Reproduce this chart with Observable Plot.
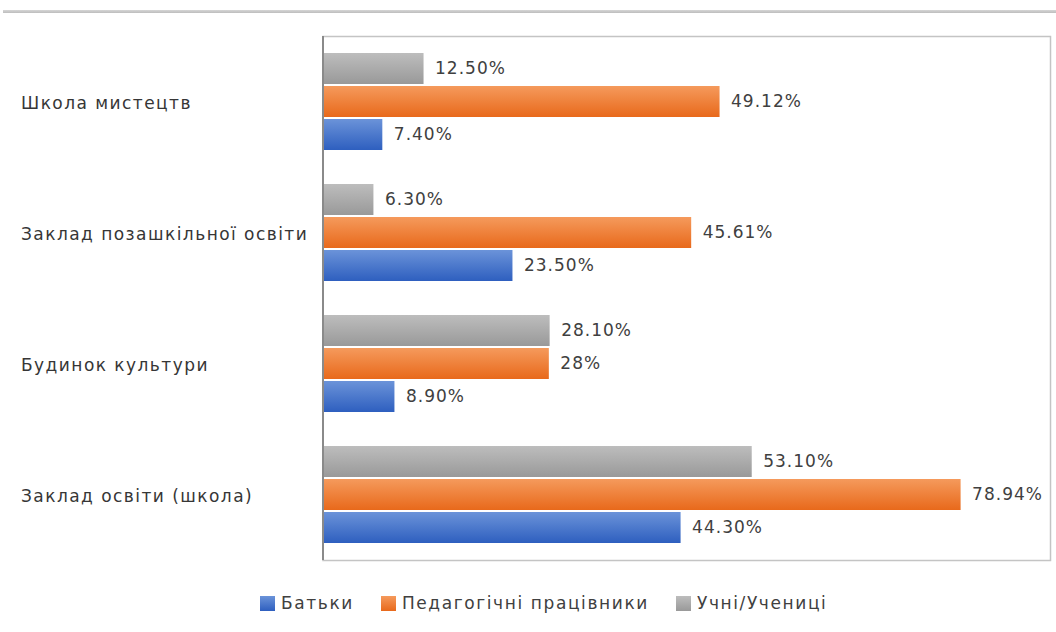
<!DOCTYPE html>
<html>
<head>
<meta charset="utf-8">
<script src="https://cdn.jsdelivr.net/npm/d3@7"></script>
<script src="https://cdn.jsdelivr.net/npm/@observablehq/plot@0.6"></script>
<style>
  html, body { margin: 0; padding: 0; background: #fff; }
  #wrap { position: relative; width: 1056px; height: 632px; font-family: "DejaVu Sans", sans-serif; }
  #topline { position: absolute; left: 3px; top: 10px; width: 1053px; height: 3px; background: linear-gradient(#d6d6d6, #bdbdbd); }
  #chart { position: absolute; left: 0; top: 0; }
  #legend { position: absolute; left: 260px; top: 593px; display: flex; align-items: center; font-size: 17px; letter-spacing: 1.6px; color: #404040; }
  .item { display: flex; align-items: center; margin-right: 27px; }
  .sw { width: 15px; height: 15px; margin-right: 6px; }
</style>
</head>
<body>
<div id="wrap">
  <div id="topline"></div>
  <div id="chart"></div>
  <div id="legend"></div>
</div>
<script>
const categories = ["Школа мистецтв", "Заклад позашкільної освіти", "Будинок культури", "Заклад освіти (школа)"];
const seriesNames = ["Батьки", "Педагогічні працівники", "Учні/Учениці"];
const parents = [7.40, 23.50, 8.90, 44.30];
const teachers = [49.12, 45.61, 28, 78.94];
const students = [12.50, 6.30, 28.10, 53.10];
const parentLabels = ["7.40%", "23.50%", "8.90%", "44.30%"];
const teacherLabels = ["49.12%", "45.61%", "28%", "78.94%"];
const studentLabels = ["12.50%", "6.30%", "28.10%", "53.10%"];

const seriesValues = [parents, teachers, students];
const seriesLabels = [parentLabels, teacherLabels, studentLabels];
const fills = ["url(#gBlue)", "url(#gOrange)", "url(#gGray)"];

const data = [];
seriesNames.forEach((s, si) => {
  categories.forEach((c, ci) => {
    data.push({category: c, series: s, value: seriesValues[si][ci], label: seriesLabels[si][ci]});
  });
});

const chart = Plot.plot({
  width: 1056,
  height: 580,
  marginTop: 35,
  marginBottom: 20,
  marginLeft: 322.5,
  marginRight: 6,
  style: {fontFamily: "'DejaVu Sans', sans-serif", fontSize: "17px", color: "#404040", background: "transparent", letterSpacing: "1px"},
  x: {domain: [0, 90], axis: null},
  fy: {domain: categories, padding: 0, axis: null},
  y: {domain: ["Учні/Учениці", "Педагогічні працівники", "Батьки"], paddingInner: 0.06, paddingOuter: 0.46, axis: null},
  marks: [
    ...seriesNames.map((s, si) => Plot.barX(data.filter(d => d.series === s), {
      x: "value", y: "series", fy: "category", fill: fills[si], inset: 0
    })),
    Plot.text(data, {x: "value", y: "series", fy: "category", text: "label", textAnchor: "start", dx: 11, fill: "#404040", fontSize: 17}),
    Plot.text(categories, {fy: d => d, text: d => d, frameAnchor: "left", textAnchor: "start", dx: -302, dy: 2, fill: "#363636", fontSize: 17, letterSpacing: "1.45px"}),
    Plot.frame({facet: "super", stroke: "#c4c4c4", strokeWidth: 1.5}),
    Plot.ruleX([0], {stroke: "#8a8a8a", strokeWidth: 2})
  ]
});

const defs = d3.select(chart).insert("defs", ":first-child");
function grad(id, top, bottom) {
  const g = defs.append("linearGradient").attr("id", id).attr("x1", 0).attr("y1", 0).attr("x2", 0).attr("y2", 1);
  g.append("stop").attr("offset", "0%").attr("stop-color", top);
  g.append("stop").attr("offset", "100%").attr("stop-color", bottom);
}
grad("gBlue", "#6b93d9", "#2e5fbf");
grad("gOrange", "#f59a5c", "#e8691b");
grad("gGray", "#bdbdbd", "#999999");

d3.select(chart).selectAll("text").filter(function() {
  return categories.includes(this.textContent);
}).style("letter-spacing", "1.45px");

document.getElementById("chart").appendChild(chart);

const legendColors = [["#6b93d9", "#2e5fbf"], ["#f59a5c", "#e8691b"], ["#bdbdbd", "#999999"]];
const legend = document.getElementById("legend");
seriesNames.forEach((s, i) => {
  const item = document.createElement("div");
  item.className = "item";
  const sw = document.createElement("div");
  sw.className = "sw";
  sw.style.background = `linear-gradient(${legendColors[i][0]}, ${legendColors[i][1]})`;
  const t = document.createElement("span");
  t.textContent = s;
  item.appendChild(sw);
  item.appendChild(t);
  legend.appendChild(item);
});
</script>
</body>
</html>
